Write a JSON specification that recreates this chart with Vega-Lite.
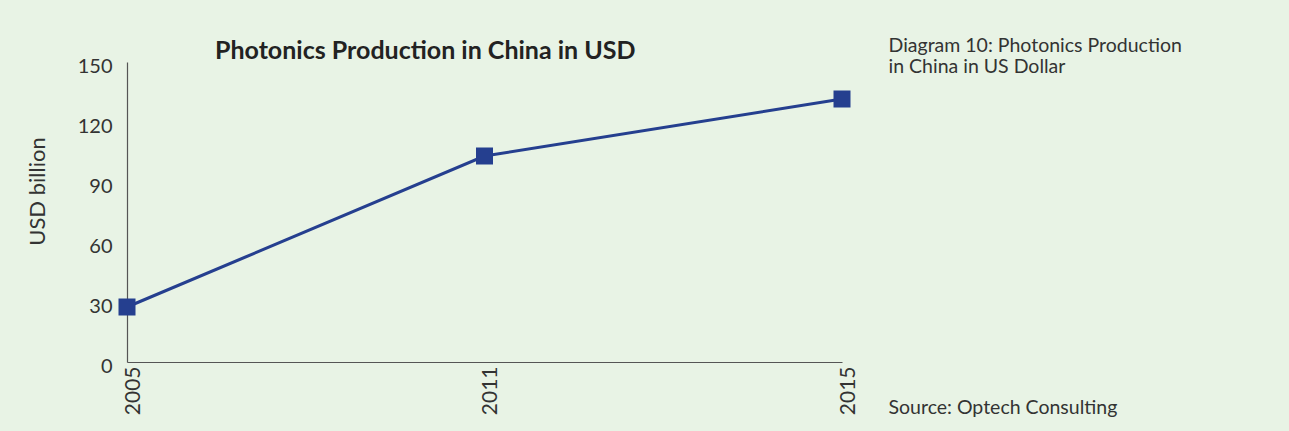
{
  "$schema": "https://vega.github.io/schema/vega-lite/v6.json",
  "width": 715,
  "height": 300,
  "autosize": {"type": "none"},
  "padding": {"left": 127, "top": 62, "right": 447, "bottom": 69},
  "background": "#e8f3e5",
  "config": {
    "view": {"stroke": null},
    "font": "Lato",
    "axis": {"grid": false, "ticks": false, "domainColor": "#555555", "domainWidth": 1.2, "labelColor": "#333333", "titleColor": "#333333", "labelFont": "Lato", "titleFont": "Lato", "labelFontSize": 20, "titleFontWeight": "normal"}
  },
  "title": {
    "text": "Photonics Production in China in USD",
    "anchor": "start",
    "frame": "group",
    "dx": 88,
    "dy": 54,
    "fontSize": 25,
    "fontWeight": "bold",
    "color": "#222222",
    "font": "Lato",
    "baseline": "alphabetic",
    "offset": 5
  },
  "data": {"values": [
    {"year": "2005", "value": 27.5},
    {"year": "2011", "value": 103},
    {"year": "2015", "value": 131.5}
  ]},
  "layer": [
    {
      "mark": {"type": "line", "color": "#253f8f", "strokeWidth": 3,
        "point": {"shape": "square", "filled": true, "color": "#253f8f", "opacity": 1, "size": 289}},
      "encoding": {
        "x": {"field": "year", "type": "ordinal", "scale": {"type": "point", "padding": 0},
          "axis": {"labelAngle": -90, "labelAlign": "right", "labelBaseline": "middle", "labelPadding": 4, "labelOffset": 6, "labelFontSize": 21,
            "title": "Source: Optech Consulting", "titleX": 761, "titleY": 51, "titleAlign": "left", "titleAnchor": null, "titleBaseline": "alphabetic", "titleFontSize": 19.5}},
        "y": {"field": "value", "type": "quantitative", "scale": {"domain": [0, 150]},
          "axis": {"values": [0, 30, 60, 90, 120, 150], "labelPadding": 15, "labelOffset": 4, "title": "USD billion", "titleFontSize": 22, "titleX": -90, "titleY": 129, "titleAngle": -90, "titleAlign": "center", "titleBaseline": "middle", "titleAnchor": null}}
      }
    },
    {
      "mark": {"type": "point", "opacity": 0},
      "encoding": {
        "x": {"field": "year", "type": "ordinal"},
        "y": {"field": "value", "type": "quantitative", "scale": {"domain": [0, 150]},
          "axis": {"orient": "right", "labels": false, "domain": false, "ticks": false,
            "title": ["Diagram 10: Photonics Production", "in China in US Dollar"],
            "titleAngle": 0, "titleX": 46, "titleY": -26, "titleAlign": "left", "titleBaseline": "top", "titleAnchor": null,
            "titleFontSize": 19.5, "titleLineHeight": 21}}
      }
    }
  ],
  "resolve": {"scale": {"y": "independent"}, "axis": {"y": "independent"}}
}
